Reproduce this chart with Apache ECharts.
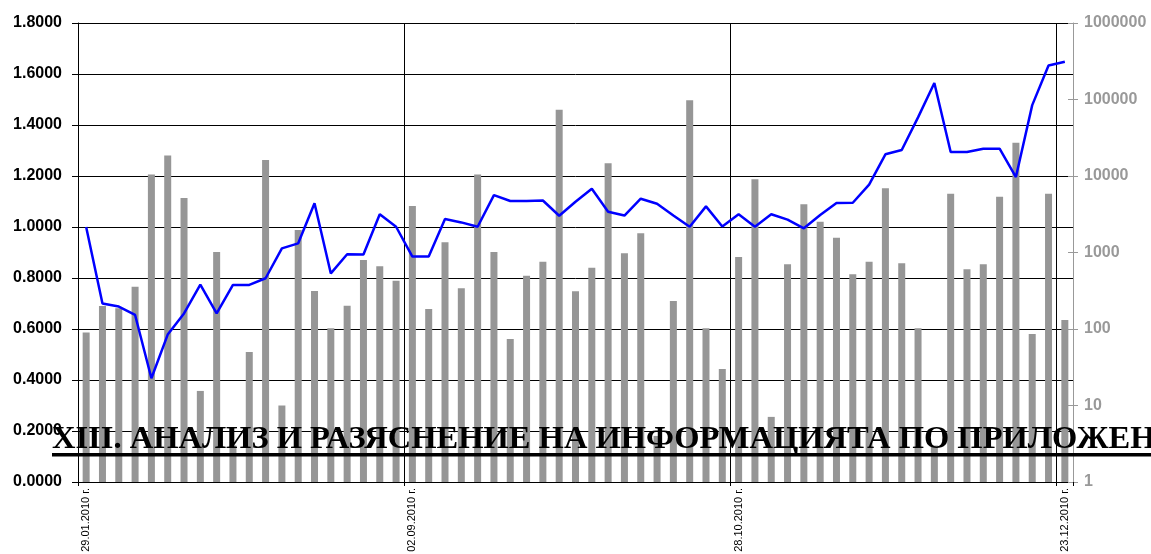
<!DOCTYPE html>
<html><head><meta charset="utf-8">
<script src="https://cdn.jsdelivr.net/npm/echarts@6/dist/echarts.min.js"></script>
<style>html,body{margin:0;padding:0;background:#fff}#c{width:1151px;height:554px}</style>
</head><body><div id="c"></div>
<script>
const categories = [
  '29.01.2010 г.','','','','','','','','','','','','','','','','','','','',
  '02.09.2010 г.','','','','','','','','','','','','','','','','','','','',
  '28.10.2010 г.','','','','','','','','','','','','','','','','','','','',
  '23.12.2010 г.'
];
const price = [
  1.00, 0.70, 0.688, 0.655, 0.407, 0.578, 0.661, 0.774, 0.661, 0.773,
  0.773, 0.799, 0.916, 0.936, 1.093, 0.818, 0.893, 0.892, 1.050, 1.001,
  0.884, 0.884, 1.031, 1.018, 1.001, 1.125, 1.102, 1.102, 1.104, 1.044,
  1.099, 1.150, 1.060, 1.045, 1.111, 1.091, 1.045, 1.001, 1.081, 1.002,
  1.050, 1.001, 1.050, 1.029, 0.995, 1.047, 1.094, 1.095, 1.166, 1.285,
  1.302, 1.43, 1.565, 1.294, 1.294, 1.307, 1.307, 1.196, 1.478, 1.633,
  1.648
];
const volume = [
  90, 200, 187, 357, 10500, 18600, 5150, 15.5, 1015, 3,
  50, 16200, 10, 1970, 314, 102, 202, 800, 660, 428,
  4050, 183, 1360, 340, 10500, 1015, 74, 497, 758, 73600,
  311, 633, 14650, 977, 1780, 4, 232, 97700, 102, 30,
  873, 9060, 7.1, 701, 4265, 2530, 1560, 519, 758, 6900,
  722, 102, 3, 5870, 603, 701, 5360, 27200, 86, 5870,
  131
];
const priceAxis = { min: 0, max: 1.8, step: 0.2 };
const volumeAxis = { min: 1, max: 1000000 };
const titleText = 'XIII. АНАЛИЗ И РАЗЯСНЕНИЕ НА ИНФОРМАЦИЯТА ПО ПРИЛОЖЕНИЕ';

const chart = echarts.init(document.getElementById('c'), null, { renderer: 'canvas' });
const grayAxis = '#999999';
chart.setOption({
  animation: false,
  grid: { left: 78, right: 78, top: 23, bottom: 72, containLabel: false, outerBoundsMode: 'none' },
  xAxis: {
    type: 'category', data: categories, boundaryGap: true,
    axisLine: { show: true, lineStyle: { color: '#000', width: 1 } },
    axisTick: { show: true, interval: 19, length: 4, lineStyle: { color: '#000' } },
    axisLabel: { interval: 19, rotate: 90, fontSize: 11, color: '#000', margin: 6, fontFamily: 'Liberation Sans' },
    splitLine: { show: true, interval: 19, lineStyle: { color: '#000', width: 1 } }
  },
  yAxis: [
    {
      type: 'value', position: 'left', min: priceAxis.min, max: priceAxis.max, interval: priceAxis.step,
      axisLine: { show: true, lineStyle: { color: '#000', width: 1 } },
      axisTick: { show: true, length: 6, lineStyle: { color: '#000' } },
      axisLabel: { formatter: v => v.toFixed(4), fontWeight: 'bold', fontSize: 16, color: '#000', margin: 16, fontFamily: 'Liberation Sans' },
      splitLine: { show: true, lineStyle: { color: '#000', width: 1 } }
    },
    {
      type: 'log', logBase: 10, position: 'right', min: volumeAxis.min, max: volumeAxis.max,
      axisLine: { show: true, lineStyle: { color: grayAxis, width: 1 } },
      axisTick: { show: true, length: 5, lineStyle: { color: grayAxis } },
      axisLabel: { formatter: v => String(Math.round(v)), fontWeight: 'bold', fontSize: 16, color: grayAxis, margin: 11, fontFamily: 'Liberation Sans' },
      splitLine: { show: false }
    },
    {
      type: 'log', logBase: 10, position: 'right', min: volumeAxis.min, max: volumeAxis.max,
      axisLine: { show: false },
      axisTick: { show: true, inside: true, length: 5, lineStyle: { color: grayAxis } },
      axisLabel: { show: false },
      splitLine: { show: false }
    }
  ],
  series: [
    {
      type: 'bar', yAxisIndex: 1, data: volume, barWidth: 7,
      itemStyle: { color: '#969696' }, z: 2
    },
    {
      type: 'line', yAxisIndex: 0, data: price, symbol: 'none',
      lineStyle: { color: '#0000ff', width: 2.5 }, itemStyle: { color: '#0000ff' }, z: 3
    }
  ],
  graphic: [
    { type: 'text', x: 52, y: 440, z: 100,
      style: { text: titleText, fontFamily: 'Liberation Serif', fontWeight: 'bold', fontSize: 32.5, fill: '#000', textVerticalAlign: 'middle' } },
    { type: 'rect', z: 100, shape: { x: 52, y: 453, width: 1100, height: 3.5 }, style: { fill: '#000' } }
  ]
});
</script>
</body></html>
